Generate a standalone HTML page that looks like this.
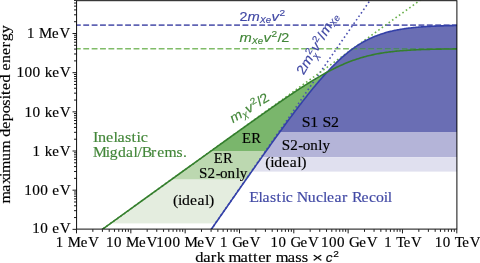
<!DOCTYPE html>
<html><head><meta charset="utf-8"><style>
html,body{margin:0;padding:0;background:#fff;width:480px;height:263px;overflow:hidden}
svg{display:block;will-change:transform}
</style></head><body>
<svg width="480" height="263" viewBox="0 0 480 263">
<defs>
<clipPath id="ax"><rect x="76.6" y="0.7" width="380.30" height="228.40"/></clipPath>
<clipPath id="cel"><polygon points="185.16,266.99 186.16,265.55 187.16,264.11 188.16,262.67 189.15,261.23 190.15,259.79 191.15,258.35 192.15,256.92 193.15,255.48 194.15,254.04 195.15,252.60 196.15,251.16 197.15,249.72 198.15,248.28 199.15,246.84 200.15,245.40 201.15,243.96 202.15,242.52 203.15,241.09 204.14,239.65 205.14,238.21 206.14,236.77 207.14,235.33 208.14,233.90 209.14,232.46 210.14,231.02 211.14,229.58 212.14,228.14 213.14,226.71 214.14,225.27 215.14,223.83 216.14,222.40 217.14,220.96 218.14,219.52 219.14,218.09 220.13,216.65 221.13,215.22 222.13,213.78 223.13,212.34 224.13,210.91 225.13,209.47 226.13,208.04 227.13,206.61 228.13,205.17 229.13,203.74 230.13,202.31 231.13,200.87 232.13,199.44 233.13,198.01 234.13,196.58 235.12,195.14 236.12,193.71 237.12,192.28 238.12,190.85 239.12,189.42 240.12,187.99 241.12,186.56 242.12,185.14 243.12,183.71 244.12,182.28 245.12,180.85 246.12,179.43 247.12,178.00 248.12,176.58 249.12,175.15 250.12,173.73 251.11,172.31 252.11,170.89 253.11,169.47 254.11,168.05 255.11,166.63 256.11,165.21 257.11,163.79 258.11,162.38 259.11,160.96 260.11,159.55 261.11,158.14 262.11,156.72 263.11,155.31 264.11,153.90 265.11,152.50 266.10,151.09 267.10,149.69 268.10,148.28 269.10,146.88 270.10,145.48 271.10,144.08 272.10,142.69 273.10,141.29 274.10,139.90 275.10,138.51 276.10,137.12 277.10,135.73 278.10,134.35 279.10,132.97 280.10,131.59 281.10,130.21 282.09,128.84 283.09,127.47 284.09,126.10 285.09,124.73 286.09,123.37 287.09,122.01 288.09,120.65 289.09,119.30 290.09,117.95 291.09,116.61 292.09,115.27 293.09,113.93 294.09,112.60 295.09,111.27 296.09,109.94 297.08,108.62 298.08,107.31 299.08,106.00 300.08,104.69 301.08,103.39 302.08,102.10 303.08,100.81 304.08,99.53 305.08,98.25 306.08,96.98 307.08,95.72 308.08,94.46 309.08,93.21 310.08,91.97 311.08,90.73 312.08,89.51 313.07,88.29 314.07,87.07 315.07,85.87 316.07,84.68 317.07,83.49 318.07,82.31 319.07,81.14 320.07,79.98 321.07,78.84 322.07,77.70 323.07,76.57 324.07,75.45 325.07,74.34 326.07,73.25 327.07,72.16 328.06,71.09 329.06,70.02 330.06,68.97 331.06,67.94 332.06,66.91 333.06,65.90 334.06,64.90 335.06,63.91 336.06,62.94 337.06,61.98 338.06,61.03 339.06,60.10 340.06,59.18 341.06,58.27 342.06,57.38 343.06,56.51 344.05,55.64 345.05,54.80 346.05,53.97 347.05,53.15 348.05,52.35 349.05,51.56 350.05,50.79 351.05,50.03 352.05,49.29 353.05,48.57 354.05,47.86 355.05,47.16 356.05,46.48 357.05,45.82 358.05,45.17 359.04,44.53 360.04,43.91 361.04,43.31 362.04,42.72 363.04,42.14 364.04,41.58 365.04,41.04 366.04,40.50 367.04,39.99 368.04,39.48 369.04,38.99 370.04,38.52 371.04,38.05 372.04,37.60 373.04,37.17 374.04,36.74 375.03,36.33 376.03,35.93 377.03,35.54 378.03,35.17 379.03,34.81 380.03,34.45 381.03,34.11 382.03,33.78 383.03,33.46 384.03,33.15 385.03,32.86 386.03,32.57 387.03,32.29 388.03,32.02 389.03,31.76 390.02,31.51 391.02,31.26 392.02,31.03 393.02,30.80 394.02,30.58 395.02,30.37 396.02,30.17 397.02,29.97 398.02,29.78 399.02,29.60 400.02,29.43 401.02,29.26 402.02,29.09 403.02,28.94 404.02,28.79 405.02,28.64 406.01,28.50 407.01,28.37 408.01,28.24 409.01,28.11 410.01,27.99 411.01,27.88 412.01,27.77 413.01,27.66 414.01,27.56 415.01,27.46 416.01,27.36 417.01,27.27 418.01,27.19 419.01,27.10 420.01,27.02 421.00,26.94 422.00,26.87 423.00,26.80 424.00,26.73 425.00,26.66 426.00,26.60 427.00,26.54 428.00,26.48 429.00,26.42 430.00,26.37 431.00,26.32 432.00,26.27 433.00,26.22 434.00,26.17 435.00,26.13 436.00,26.09 436.99,26.05 437.99,26.01 438.99,25.97 439.99,25.93 440.99,25.90 441.99,25.87 442.99,25.84 443.99,25.81 444.99,25.78 445.99,25.75 446.99,25.72 447.99,25.70 448.99,25.67 449.99,25.65 450.99,25.62 451.98,25.60 452.98,25.58 453.98,25.56 454.98,25.54 455.98,25.52 456.98,25.51 457.98,25.49 458.98,25.47 459.98,25.46 460.98,25.44 461.98,25.43 462.98,25.42 463.98,25.40 464.98,25.39 465.98,25.38 466.98,25.37 467.97,25.35 468.97,25.34 469.97,25.33 470.97,25.32 471.97,25.31 472.97,25.31 473.97,25.30 474.97,25.29 475.97,25.28 476.97,25.27 477.97,25.27 478.97,25.26 479.97,25.25 480.97,25.25 481.97,25.24 482.96,25.23 483.96,25.23 483.96,300 185.16,300"/></clipPath>
<clipPath id="cbt"><polygon points="49.34,267.54 50.73,266.53 52.13,265.53 53.52,264.52 54.92,263.52 56.31,262.51 57.71,261.50 59.10,260.50 60.50,259.49 61.89,258.49 63.29,257.48 64.68,256.47 66.08,255.47 67.47,254.46 68.87,253.46 70.26,252.45 71.66,251.44 73.05,250.44 74.45,249.43 75.84,248.43 77.24,247.42 78.63,246.42 80.03,245.41 81.42,244.40 82.82,243.40 84.21,242.39 85.61,241.39 87.00,240.38 88.40,239.37 89.80,238.37 91.19,237.36 92.59,236.36 93.98,235.35 95.38,234.34 96.77,233.34 98.17,232.33 99.56,231.33 100.96,230.32 102.35,229.32 103.75,228.31 105.14,227.30 106.54,226.30 107.93,225.29 109.33,224.29 110.72,223.28 112.12,222.27 113.51,221.27 114.91,220.26 116.30,219.26 117.70,218.25 119.09,217.25 120.49,216.24 121.88,215.23 123.28,214.23 124.67,213.22 126.07,212.22 127.46,211.21 128.86,210.20 130.25,209.20 131.65,208.19 133.04,207.19 134.44,206.18 135.84,205.18 137.23,204.17 138.63,203.16 140.02,202.16 141.42,201.15 142.81,200.15 144.21,199.14 145.60,198.14 147.00,197.13 148.39,196.12 149.79,195.12 151.18,194.11 152.58,193.11 153.97,192.10 155.37,191.10 156.76,190.09 158.16,189.08 159.55,188.08 160.95,187.07 162.34,186.07 163.74,185.06 165.13,184.06 166.53,183.05 167.92,182.05 169.32,181.04 170.71,180.03 172.11,179.03 173.50,178.02 174.90,177.02 176.29,176.01 177.69,175.01 179.08,174.00 180.48,173.00 181.88,171.99 183.27,170.99 184.67,169.98 186.06,168.98 187.46,167.97 188.85,166.97 190.25,165.96 191.64,164.96 193.04,163.95 194.43,162.95 195.83,161.94 197.22,160.94 198.62,159.93 200.01,158.93 201.41,157.93 202.80,156.92 204.20,155.92 205.59,154.91 206.99,153.91 208.38,152.91 209.78,151.90 211.17,150.90 212.57,149.89 213.96,148.89 215.36,147.89 216.75,146.89 218.15,145.88 219.54,144.88 220.94,143.88 222.33,142.88 223.73,141.87 225.12,140.87 226.52,139.87 227.92,138.87 229.31,137.87 230.71,136.87 232.10,135.87 233.50,134.87 234.89,133.87 236.29,132.87 237.68,131.87 239.08,130.87 240.47,129.88 241.87,128.88 243.26,127.88 244.66,126.89 246.05,125.89 247.45,124.90 248.84,123.90 250.24,122.91 251.63,121.92 253.03,120.93 254.42,119.93 255.82,118.94 257.21,117.95 258.61,116.97 260.00,115.98 261.40,114.99 262.79,114.01 264.19,113.02 265.58,112.04 266.98,111.06 268.37,110.08 269.77,109.10 271.16,108.13 272.56,107.15 273.96,106.18 275.35,105.21 276.75,104.24 278.14,103.28 279.54,102.31 280.93,101.35 282.33,100.39 283.72,99.43 285.12,98.48 286.51,97.53 287.91,96.58 289.30,95.64 290.70,94.70 292.09,93.76 293.49,92.83 294.88,91.90 296.28,90.98 297.67,90.06 299.07,89.14 300.46,88.23 301.86,87.33 303.25,86.43 304.65,85.53 306.04,84.65 307.44,83.76 308.83,82.89 310.23,82.02 311.62,81.16 313.02,80.31 314.41,79.46 315.81,78.63 317.20,77.80 318.60,76.98 320.00,76.17 321.39,75.37 322.79,74.57 324.18,73.79 325.58,73.02 326.97,72.26 326.97,72.26 325.58,73.78 324.18,75.32 322.79,76.89 321.39,78.47 320.00,80.07 318.60,81.69 317.20,83.33 315.81,84.99 314.41,86.66 313.02,88.35 311.62,90.06 310.23,91.78 308.83,93.52 307.44,95.27 306.04,97.03 304.65,98.80 303.25,100.59 301.86,102.39 300.46,104.20 299.07,106.02 297.67,107.85 296.28,109.69 294.88,111.54 293.49,113.40 292.09,115.26 290.70,117.13 289.30,119.02 287.91,120.90 286.51,122.80 285.12,124.70 283.72,126.61 282.33,128.52 280.93,130.44 279.54,132.36 278.14,134.29 276.75,136.22 275.35,138.16 273.96,140.10 272.56,142.04 271.16,143.99 269.77,145.95 268.37,147.90 266.98,149.86 265.58,151.82 264.19,153.79 262.79,155.75 261.40,157.72 260.00,159.70 258.61,161.67 257.21,163.65 255.82,165.63 254.42,167.61 253.03,169.59 251.63,171.57 250.24,173.56 248.84,175.54 247.45,177.53 246.05,179.52 244.66,181.51 243.26,183.51 241.87,185.50 240.47,187.49 239.08,189.49 237.68,191.48 236.29,193.48 234.89,195.48 233.50,197.48 232.10,199.48 230.71,201.48 229.31,203.48 227.92,205.48 226.52,207.48 225.12,209.48 223.73,211.49 222.33,213.49 220.94,215.49 219.54,217.50 218.15,219.50 216.75,221.51 215.36,223.52 213.96,225.52 212.57,227.53 211.17,229.53 209.78,231.54 208.38,233.55 206.99,235.56 205.59,237.56 204.20,239.57 202.80,241.58 201.41,243.59 200.01,245.60 198.62,247.61 197.22,249.61 195.83,251.62 194.43,253.63 193.04,255.64 191.64,257.65 190.25,259.66 188.85,261.67 187.46,263.68 186.06,265.69 184.67,267.70 183.27,269.71 181.88,271.72 180.48,273.73 179.08,275.74 177.69,277.75 176.29,279.76 174.90,281.77 173.50,283.79 172.11,285.80 170.71,287.81 169.32,289.82 167.92,291.83 166.53,293.84 165.13,295.85 163.74,297.86 162.34,299.87 160.95,301.88 159.55,303.90 158.16,305.91 156.76,307.92 155.37,309.93 153.97,311.94 152.58,313.95 151.18,315.96 149.79,317.97 148.39,319.99 147.00,322.00 145.60,324.01 144.21,326.02 142.81,328.03 141.42,330.04 140.02,332.05 138.63,334.07 137.23,336.08 135.84,338.09 134.44,340.10 133.04,342.11 131.65,344.12 130.25,346.14 128.86,348.15 127.46,350.16 126.07,352.17 124.67,354.18 123.28,356.19 121.88,358.21 120.49,360.22 119.09,362.23 117.70,364.24 116.30,366.25 114.91,368.26 113.51,370.28 112.12,372.29 110.72,374.30 109.33,376.31 107.93,378.32 106.54,380.33 105.14,382.35 103.75,384.36 102.35,386.37 100.96,388.38 99.56,390.39 98.17,392.40 96.77,394.42 95.38,396.43 93.98,398.44 92.59,400.45 91.19,402.46 89.80,404.47 88.40,406.49 87.00,408.50 85.61,410.51 84.21,412.52 82.82,414.53 81.42,416.55 80.03,418.56 78.63,420.57 77.24,422.58 75.84,424.59 74.45,426.60 73.05,428.62 71.66,430.63 70.26,432.64 68.87,434.65 67.47,436.66 66.08,438.67 64.68,440.69 63.29,442.70 61.89,444.71 60.50,446.72 59.10,448.73 57.71,450.74 56.31,452.76 54.92,454.77 53.52,456.78 52.13,458.79 50.73,460.80 49.34,462.82"/></clipPath>
</defs>
<rect width="480" height="263" fill="#fff"/>
<g clip-path="url(#ax)">
 <g clip-path="url(#cbt)">
  <rect x="0" y="0" width="480" height="151.0" fill="#7ab66c"/>
  <rect x="0" y="151.0" width="480" height="28.60" fill="#bcd8b0"/>
  <rect x="0" y="179.6" width="480" height="43.80" fill="#e4eddf"/>
 </g>
 <g clip-path="url(#cel)">
  <rect x="0" y="0" width="480" height="132.0" fill="#6a6eb4"/>
  <rect x="0" y="132.0" width="480" height="25.20" fill="#b4b4d8"/>
  <rect x="0" y="157.2" width="480" height="14.40" fill="#e0e0ef"/>
 </g>
 <line x1="74.9" y1="25.10" x2="470" y2="25.10" stroke="#6064b4" stroke-width="1.6" stroke-dasharray="5.85 2.53"/>
 <line x1="74.9" y1="48.68" x2="470" y2="48.68" stroke="#80bc68" stroke-width="1.6" stroke-dasharray="5.85 2.53"/>
 <line x1="74.9" y1="48.68" x2="470" y2="48.68" stroke="#4e8070" stroke-width="1.6" stroke-dasharray="5.85 2.53" clip-path="url(#cel)"/>
 <polyline points="201.51,243.38 386.12,-22.81" fill="none" stroke="#4a50b0" stroke-width="1.6" stroke-dasharray="1.6 2.64"/>
 <polyline points="92.85,236.16 440.45,-14.44" fill="none" stroke="#6ab04c" stroke-width="1.6" stroke-dasharray="1.6 2.64"/>
 <polyline points="196.02,251.34 196.93,250.03 197.84,248.72 198.75,247.42 199.66,246.11 200.57,244.80 201.47,243.49 202.38,242.18 203.29,240.88 204.20,239.57 205.11,238.26 206.02,236.95 206.92,235.65 207.83,234.34 208.74,233.03 209.65,231.73 210.56,230.42 211.47,229.11 212.38,227.80 213.28,226.50 214.19,225.19 215.10,223.89 216.01,222.58 216.92,221.27 217.83,219.97 218.74,218.66 219.64,217.36 220.55,216.05 221.46,214.75 222.37,213.44 223.28,212.14 224.19,210.83 225.10,209.53 226.00,208.22 226.91,206.92 227.82,205.62 228.73,204.31 229.64,203.01 230.55,201.71 231.45,200.40 232.36,199.10 233.27,197.80 234.18,196.50 235.09,195.20 236.00,193.89 236.91,192.59 237.81,191.29 238.72,189.99 239.63,188.69 240.54,187.40 241.45,186.10 242.36,184.80 243.27,183.50 244.17,182.20 245.08,180.91 245.99,179.61 246.90,178.31 247.81,177.02 248.72,175.72 249.62,174.43 250.53,173.14 251.44,171.84 252.35,170.55 253.26,169.26 254.17,167.97 255.08,166.68 255.98,165.39 256.89,164.10 257.80,162.81 258.71,161.53 259.62,160.24 260.53,158.96 261.44,157.67 262.34,156.39 263.25,155.11 264.16,153.83 265.07,152.55 265.98,151.27 266.89,149.99 267.79,148.72 268.70,147.44 269.61,146.17 270.52,144.90 271.43,143.63 272.34,142.36 273.25,141.09 274.15,139.82 275.06,138.56 275.97,137.30 276.88,136.04 277.79,134.78 278.70,133.52 279.61,132.26 280.51,131.01 281.42,129.76 282.33,128.51 283.24,127.27 284.15,126.02 285.06,124.78 285.96,123.54 286.87,122.31 287.78,121.07 288.69,119.84 289.60,118.61 290.51,117.39 291.42,116.17 292.32,114.95 293.23,113.74 294.14,112.52 295.05,111.32 295.96,110.11 296.87,108.91 297.78,107.71 298.68,106.52 299.59,105.33 300.50,104.15 301.41,102.97 302.32,101.80 303.23,100.63 304.13,99.46 305.04,98.30 305.95,97.14 306.86,95.99 307.77,94.85 308.68,93.71 309.59,92.58 310.49,91.45 311.40,90.33 312.31,89.22 313.22,88.11 314.13,87.01 315.04,85.91 315.95,84.83 316.85,83.75 317.76,82.67 318.67,81.61 319.58,80.55 320.49,79.50 321.40,78.46 322.30,77.43 323.21,76.40 324.12,75.39 325.03,74.38 325.94,73.38 326.85,72.40 327.76,71.42 328.66,70.45 329.57,69.49 330.48,68.54 331.39,67.60 332.30,66.67 333.21,65.75 334.12,64.84 335.02,63.95 335.93,63.06 336.84,62.18 337.75,61.32 338.66,60.47 339.57,59.63 340.48,58.80 341.38,57.98 342.29,57.17 343.20,56.38 344.11,55.60 345.02,54.83 345.93,54.07 346.83,53.33 347.74,52.59 348.65,51.87 349.56,51.17 350.47,50.47 351.38,49.79 352.29,49.12 353.19,48.46 354.10,47.82 355.01,47.19 355.92,46.57 356.83,45.96 357.74,45.37 358.65,44.78 359.55,44.21 360.46,43.66 361.37,43.11 362.28,42.58 363.19,42.06 364.10,41.55 365.00,41.06 365.91,40.57 366.82,40.10 367.73,39.64 368.64,39.19 369.55,38.75 370.46,38.32 371.36,37.90 372.27,37.50 373.18,37.10 374.09,36.72 375.00,36.35 375.91,35.98 376.82,35.63 377.72,35.28 378.63,34.95 379.54,34.63 380.45,34.31 381.36,34.00 382.27,33.71 383.17,33.42 384.08,33.14 384.99,32.87 385.90,32.60 386.81,32.35 387.72,32.10 388.63,31.86 389.53,31.63 390.44,31.40 391.35,31.18 392.26,30.97 393.17,30.77 394.08,30.57 394.99,30.38 395.89,30.19 396.80,30.01 397.71,29.84 398.62,29.67 399.53,29.51 400.44,29.35 401.34,29.20 402.25,29.06 403.16,28.92 404.07,28.78 404.98,28.65 405.89,28.52 406.80,28.40 407.70,28.28 408.61,28.16 409.52,28.05 410.43,27.94 411.34,27.84 412.25,27.74 413.16,27.64 414.06,27.55 414.97,27.46 415.88,27.38 416.79,27.29 417.70,27.21 418.61,27.13 419.51,27.06 420.42,26.99 421.33,26.92 422.24,26.85 423.15,26.79 424.06,26.72 424.97,26.66 425.87,26.61 426.78,26.55 427.69,26.50 428.60,26.44 429.51,26.39 430.42,26.35 431.33,26.30 432.23,26.26 433.14,26.21 434.05,26.17 434.96,26.13 435.87,26.09 436.78,26.06 437.69,26.02 438.59,25.99 439.50,25.95 440.41,25.92 441.32,25.89 442.23,25.86 443.14,25.83 444.04,25.80 444.95,25.78 445.86,25.75 446.77,25.73 447.68,25.70 448.59,25.68 449.50,25.66 450.40,25.64 451.31,25.62 452.22,25.60 453.13,25.58 454.04,25.56 454.95,25.54 455.86,25.53 456.76,25.51 457.67,25.50 458.58,25.48 459.49,25.47 460.40,25.45 461.31,25.44 462.21,25.43 463.12,25.41 464.03,25.40 464.94,25.39 465.85,25.38 466.76,25.37 467.67,25.36" fill="none" stroke="#3340a8" stroke-width="1.6"/>
 <polyline points="87.37,240.12 88.64,239.20 89.91,238.29 91.18,237.37 92.45,236.45 93.73,235.53 95.00,234.62 96.27,233.70 97.54,232.78 98.81,231.87 100.08,230.95 101.36,230.03 102.63,229.12 103.90,228.20 105.17,227.28 106.44,226.36 107.72,225.45 108.99,224.53 110.26,223.61 111.53,222.70 112.80,221.78 114.08,220.86 115.35,219.95 116.62,219.03 117.89,218.11 119.16,217.19 120.44,216.28 121.71,215.36 122.98,214.44 124.25,213.53 125.52,212.61 126.79,211.69 128.07,210.78 129.34,209.86 130.61,208.94 131.88,208.03 133.15,207.11 134.43,206.19 135.70,205.27 136.97,204.36 138.24,203.44 139.51,202.52 140.79,201.61 142.06,200.69 143.33,199.77 144.60,198.86 145.87,197.94 147.15,197.02 148.42,196.11 149.69,195.19 150.96,194.27 152.23,193.35 153.50,192.44 154.78,191.52 156.05,190.60 157.32,189.69 158.59,188.77 159.86,187.85 161.14,186.94 162.41,186.02 163.68,185.10 164.95,184.19 166.22,183.27 167.50,182.35 168.77,181.44 170.04,180.52 171.31,179.60 172.58,178.69 173.86,177.77 175.13,176.85 176.40,175.94 177.67,175.02 178.94,174.10 180.21,173.19 181.49,172.27 182.76,171.36 184.03,170.44 185.30,169.52 186.57,168.61 187.85,167.69 189.12,166.77 190.39,165.86 191.66,164.94 192.93,164.03 194.21,163.11 195.48,162.19 196.75,161.28 198.02,160.36 199.29,159.45 200.57,158.53 201.84,157.62 203.11,156.70 204.38,155.78 205.65,154.87 206.92,153.95 208.20,153.04 209.47,152.12 210.74,151.21 212.01,150.29 213.28,149.38 214.56,148.47 215.83,147.55 217.10,146.64 218.37,145.72 219.64,144.81 220.92,143.90 222.19,142.98 223.46,142.07 224.73,141.16 226.00,140.24 227.28,139.33 228.55,138.42 229.82,137.51 231.09,136.59 232.36,135.68 233.63,134.77 234.91,133.86 236.18,132.95 237.45,132.04 238.72,131.13 239.99,130.22 241.27,129.31 242.54,128.40 243.81,127.49 245.08,126.58 246.35,125.68 247.63,124.77 248.90,123.86 250.17,122.96 251.44,122.05 252.71,121.15 253.99,120.24 255.26,119.34 256.53,118.44 257.80,117.54 259.07,116.64 260.34,115.74 261.62,114.84 262.89,113.94 264.16,113.04 265.43,112.15 266.70,111.25 267.98,110.36 269.25,109.47 270.52,108.58 271.79,107.69 273.06,106.80 274.34,105.92 275.61,105.03 276.88,104.15 278.15,103.27 279.42,102.39 280.70,101.51 281.97,100.64 283.24,99.76 284.51,98.89 285.78,98.03 287.06,97.16 288.33,96.30 289.60,95.44 290.87,94.58 292.14,93.73 293.41,92.88 294.69,92.03 295.96,91.19 297.23,90.35 298.50,89.51 299.77,88.68 301.05,87.85 302.32,87.03 303.59,86.21 304.86,85.40 306.13,84.59 307.41,83.78 308.68,82.99 309.95,82.20 311.22,81.41 312.49,80.63 313.77,79.86 315.04,79.09 316.31,78.33 317.58,77.58 318.85,76.83 320.12,76.09 321.40,75.36 322.67,74.64 323.94,73.93 325.21,73.22 326.48,72.53 327.76,71.84 329.03,71.16 330.30,70.49 331.57,69.84 332.84,69.19 334.12,68.55 335.39,67.93 336.66,67.31 337.93,66.71 339.20,66.11 340.48,65.53 341.75,64.96 343.02,64.40 344.29,63.85 345.56,63.32 346.83,62.79 348.11,62.28 349.38,61.78 350.65,61.30 351.92,60.82 353.19,60.36 354.47,59.91 355.74,59.48 357.01,59.05 358.28,58.64 359.55,58.24 360.83,57.85 362.10,57.47 363.37,57.11 364.64,56.76 365.91,56.42 367.19,56.09 368.46,55.77 369.73,55.46 371.00,55.17 372.27,54.88 373.54,54.61 374.82,54.34 376.09,54.09 377.36,53.84 378.63,53.61 379.90,53.38 381.18,53.16 382.45,52.96 383.72,52.76 384.99,52.56 386.26,52.38 387.54,52.21 388.81,52.04 390.08,51.88 391.35,51.72 392.62,51.58 393.90,51.44 395.17,51.30 396.44,51.17 397.71,51.05 398.98,50.94 400.25,50.82 401.53,50.72 402.80,50.62 404.07,50.52 405.34,50.43 406.61,50.34 407.89,50.26 409.16,50.18 410.43,50.10 411.70,50.03 412.97,49.96 414.25,49.90 415.52,49.84 416.79,49.78 418.06,49.72 419.33,49.67 420.61,49.62 421.88,49.57 423.15,49.52 424.42,49.48 425.69,49.44 426.96,49.40 428.24,49.36 429.51,49.33 430.78,49.29 432.05,49.26 433.32,49.23 434.60,49.20 435.87,49.18 437.14,49.15 438.41,49.13 439.68,49.10 440.96,49.08 442.23,49.06 443.50,49.04 444.77,49.02 446.04,49.00 447.32,48.99 448.59,48.97 449.86,48.96 451.13,48.94 452.40,48.93 453.67,48.92 454.95,48.90 456.22,48.89 457.49,48.88 458.76,48.87 460.03,48.86 461.31,48.85 462.58,48.84 463.85,48.83 465.12,48.82 466.39,48.82 467.67,48.81" fill="none" stroke="#347e2e" stroke-width="1.6"/>
</g>
<path d="M76.50,229.35v4M92.85,229.35v2.5M102.42,229.35v2.5M109.21,229.35v2.5M114.47,229.35v2.5M118.78,229.35v2.5M122.41,229.35v2.5M125.56,229.35v2.5M128.34,229.35v2.5M130.83,229.35v4M147.18,229.35v2.5M156.75,229.35v2.5M163.54,229.35v2.5M168.80,229.35v2.5M173.10,229.35v2.5M176.74,229.35v2.5M179.89,229.35v2.5M182.67,229.35v2.5M185.16,229.35v4M201.51,229.35v2.5M211.08,229.35v2.5M217.87,229.35v2.5M223.13,229.35v2.5M227.43,229.35v2.5M231.07,229.35v2.5M234.22,229.35v2.5M237.00,229.35v2.5M239.49,229.35v4M255.84,229.35v2.5M265.41,229.35v2.5M272.19,229.35v2.5M277.46,229.35v2.5M281.76,229.35v2.5M285.40,229.35v2.5M288.55,229.35v2.5M291.33,229.35v2.5M293.81,229.35v4M310.17,229.35v2.5M319.74,229.35v2.5M326.52,229.35v2.5M331.79,229.35v2.5M336.09,229.35v2.5M339.73,229.35v2.5M342.88,229.35v2.5M345.66,229.35v2.5M348.14,229.35v4M364.50,229.35v2.5M374.06,229.35v2.5M380.85,229.35v2.5M386.12,229.35v2.5M390.42,229.35v2.5M394.06,229.35v2.5M397.21,229.35v2.5M399.99,229.35v2.5M402.47,229.35v4M418.83,229.35v2.5M428.39,229.35v2.5M435.18,229.35v2.5M440.45,229.35v2.5M444.75,229.35v2.5M448.38,229.35v2.5M451.54,229.35v2.5M454.31,229.35v2.5M456.80,229.35v4M76.5,229.35h-4M76.5,190.18h-4M76.5,151.01h-4M76.5,111.84h-4M76.5,72.67h-4M76.5,33.50h-4M76.5,217.56h-2.5M76.5,210.66h-2.5M76.5,205.77h-2.5M76.5,201.97h-2.5M76.5,198.87h-2.5M76.5,196.25h-2.5M76.5,193.98h-2.5M76.5,191.97h-2.5M76.5,178.39h-2.5M76.5,171.49h-2.5M76.5,166.60h-2.5M76.5,162.80h-2.5M76.5,159.70h-2.5M76.5,157.08h-2.5M76.5,154.81h-2.5M76.5,152.80h-2.5M76.5,139.22h-2.5M76.5,132.32h-2.5M76.5,127.43h-2.5M76.5,123.63h-2.5M76.5,120.53h-2.5M76.5,117.91h-2.5M76.5,115.64h-2.5M76.5,113.63h-2.5M76.5,100.05h-2.5M76.5,93.15h-2.5M76.5,88.26h-2.5M76.5,84.46h-2.5M76.5,81.36h-2.5M76.5,78.74h-2.5M76.5,76.47h-2.5M76.5,74.46h-2.5M76.5,60.88h-2.5M76.5,53.98h-2.5M76.5,49.09h-2.5M76.5,45.29h-2.5M76.5,42.19h-2.5M76.5,39.57h-2.5M76.5,37.30h-2.5M76.5,35.29h-2.5M76.5,21.71h-2.5M76.5,14.81h-2.5M76.5,9.92h-2.5M76.5,6.12h-2.5M76.5,3.02h-2.5M76.5,0.40h-2.5" stroke="#000" stroke-width="0.9" fill="none"/>
<rect x="76.6" y="0.7" width="380.30" height="228.40" fill="none" stroke="#000" stroke-width="0.95"/>
<g font-family='"Liberation Serif", serif' font-size="14.0" stroke-width="0.15" paint-order="stroke">
<text transform="scale(1.0583,1)" x="52.65 60.24 64.03 76.25 83.31" y="246.75" fill="#000" stroke="#000">1 MeV</text>
<text transform="scale(1.0718,1)" x="98.93 106.43 113.92 117.66 129.73 136.70" y="246.75" fill="#000" stroke="#000">10 MeV</text>
<text transform="scale(1.0817,1)" x="144.53 151.96 159.38 166.81 170.52 182.47 189.38" y="246.75" fill="#000" stroke="#000">100 MeV</text>
<text transform="scale(1.0483,1)" x="209.98 217.64 221.47 231.09 238.21" y="246.75" fill="#000" stroke="#000">1 GeV</text>
<text transform="scale(1.0641,1)" x="254.14 261.69 269.24 273.01 282.49 289.51" y="246.75" fill="#000" stroke="#000">10 GeV</text>
<text transform="scale(1.0756,1)" x="298.44 305.91 313.38 320.85 324.58 333.95 340.90" y="246.75" fill="#000" stroke="#000">100 GeV</text>
<text transform="scale(1.0559,1)" x="363.84 371.45 375.25 382.28 389.35" y="246.75" fill="#000" stroke="#000">1 TeV</text>
<text transform="scale(1.0715,1)" x="405.74 413.24 420.74 424.48 431.41 438.38" y="246.75" fill="#000" stroke="#000">10 TeV</text>
<text transform="scale(1.0840,1)" x="29.73 37.14 44.55 48.26 55.15" y="233.45" fill="#000" stroke="#000">10 eV</text>
<text transform="scale(1.0949,1)" x="22.10 29.44 36.78 44.11 47.78 54.60" y="194.53" fill="#000" stroke="#000">100 eV</text>
<text transform="scale(1.0727,1)" x="30.40 37.89 41.63 48.76 55.73" y="155.61" fill="#000" stroke="#000">1 keV</text>
<text transform="scale(1.0856,1)" x="22.65 30.04 37.44 41.14 48.19 55.07" y="116.69" fill="#000" stroke="#000">10 keV</text>
<text transform="scale(1.0946,1)" x="15.12 22.46 29.80 37.13 40.80 47.79 54.61" y="76.52" fill="#000" stroke="#000">100 keV</text>
<text transform="scale(1.0583,1)" x="25.60 33.19 36.98 49.19 56.25" y="37.60" fill="#000" stroke="#000">1 MeV</text>
<text transform="translate(-0.25,0.00) translate(9.9,203.6) rotate(-90) scale(1.1429,1)" x="0.00 10.47 17.06 23.29 26.82 37.30 44.41 54.89 58.40 65.47 72.01 79.08 85.73 91.40 94.93 99.37 105.90 112.98 116.49 123.02 130.14 136.68 141.96 149.03" y="0.00" fill="#000" stroke="#000">maximum deposited energy</text>
<text transform="scale(1.1808,1)" x="165.31 172.16 178.53 183.64 190.12 193.52 203.66 210.03 214.33 218.63 224.95 230.06 233.46 243.60 249.98 255.46" y="261.70" fill="#000" stroke="#000">dark matter mass</text>
<text transform="scale(1.0465,1)" x="231.33 240.14" y="142.55" fill="#000" stroke="#000">ER</text>
<text transform="scale(1.0465,1)" x="204.29 213.10" y="162.70" fill="#000" stroke="#000">ER</text>
<text transform="scale(1.0792,1)" x="184.38 192.39 199.83 203.79 210.83 218.36 222.10" y="177.70" fill="#000" stroke="#000">S2-only</text>
<text transform="scale(1.1225,1)" x="154.12 158.51 162.11 169.31 175.96 182.67 186.27" y="204.75" fill="#000" stroke="#000">(ideal)</text>
<text transform="scale(1.1301,1)" x="266.97 274.62 281.73 285.28 292.93" y="126.75" fill="#000" stroke="#000">S1 S2</text>
<text transform="scale(1.0792,1)" x="261.01 269.02 276.46 280.42 287.46 295.00 298.74" y="149.70" fill="#000" stroke="#000">S2-only</text>
<text transform="scale(1.1225,1)" x="236.26 240.65 244.25 251.45 258.11 264.81 268.41" y="166.65" fill="#000" stroke="#000">(ideal)</text>
<text transform="scale(1.1315,1)" x="220.32 228.47 232.04 238.69 244.42 248.90 252.47 258.72 262.26 272.03 279.21 285.46 289.03 295.63 302.29 307.62 311.17 319.57 326.17 332.42 339.14 342.70" y="201.65" fill="#4048a4" stroke="#4048a4">Elastic Nuclear Recoil</text>
<text transform="scale(1.1559,1)" x="80.37 84.69 91.72 98.18 101.68 108.19 113.79 118.18 121.68" y="141.70" fill="#428638" stroke="#428638">Inelastic</text>
<text transform="scale(1.1162,1)" x="83.23 94.81 98.42 105.66 112.90 119.65 123.26 127.07 135.39 140.79 147.49 158.21 164.02" y="156.70" fill="#428638" stroke="#428638">Migdal/Brems.</text>
</g>
<g transform="translate(239.40,20.50)" fill="#4048a4" font-family='"Liberation Sans", sans-serif' stroke="#4048a4" stroke-width="0.15"><text x="0.00" y="-0.00" font-size="13.20" textLength="8.02" lengthAdjust="spacingAndGlyphs">2</text><text x="8.03" y="-0.00" font-size="13.20" font-style="italic" textLength="12.27" lengthAdjust="spacingAndGlyphs">m</text><text x="20.33" y="2.13" font-size="9.24" font-style="italic" textLength="6.04" lengthAdjust="spacingAndGlyphs">X</text><text x="26.38" y="2.13" font-size="9.24" font-style="italic" textLength="5.43" lengthAdjust="spacingAndGlyphs">e</text><text x="32.18" y="-0.00" font-size="13.20" font-style="italic" textLength="7.46" lengthAdjust="spacingAndGlyphs">v</text><text x="40.23" y="-4.98" font-size="9.24" textLength="5.61" lengthAdjust="spacingAndGlyphs">2</text></g>
<g transform="translate(239.40,41.70)" fill="#428638" font-family='"Liberation Sans", sans-serif' stroke="#428638" stroke-width="0.15"><text x="0.00" y="-0.00" font-size="13.20" font-style="italic" textLength="12.27" lengthAdjust="spacingAndGlyphs">m</text><text x="12.30" y="2.13" font-size="9.24" font-style="italic" textLength="6.04" lengthAdjust="spacingAndGlyphs">X</text><text x="18.35" y="2.13" font-size="9.24" font-style="italic" textLength="5.43" lengthAdjust="spacingAndGlyphs">e</text><text x="24.15" y="-0.00" font-size="13.20" font-style="italic" textLength="7.46" lengthAdjust="spacingAndGlyphs">v</text><text x="32.20" y="-4.98" font-size="9.24" textLength="5.61" lengthAdjust="spacingAndGlyphs">2</text><text x="38.18" y="-0.00" font-size="13.20" textLength="4.25" lengthAdjust="spacingAndGlyphs">/</text><text x="41.93" y="-0.00" font-size="13.20" textLength="8.02" lengthAdjust="spacingAndGlyphs">2</text></g>
<g transform="translate(312.35,261.70)" fill="#000" font-family='"Liberation Sans", sans-serif' stroke="#000" stroke-width="0.15"><text x="0.00" y="-0.00" font-size="13.20" textLength="10.56" lengthAdjust="spacingAndGlyphs">×</text><text x="13.30" y="-0.00" font-size="13.20" font-style="italic" textLength="6.93" lengthAdjust="spacingAndGlyphs">c</text><text x="20.90" y="-4.98" font-size="9.24" textLength="5.61" lengthAdjust="spacingAndGlyphs">2</text></g>
<g transform="translate(303.55,75.55) rotate(-59.5)" fill="#4048a4" font-family='"Liberation Sans", sans-serif' stroke="#4048a4" stroke-width="0.15"><text x="0.00" y="-0.00" font-size="13.20" textLength="8.02" lengthAdjust="spacingAndGlyphs">2</text><text x="8.03" y="-0.00" font-size="13.20" font-style="italic" textLength="12.27" lengthAdjust="spacingAndGlyphs">m</text><text x="20.94" y="-4.98" font-size="9.24" textLength="5.61" lengthAdjust="spacingAndGlyphs">2</text><text x="20.33" y="3.55" font-size="9.24" font-style="italic" textLength="5.22" lengthAdjust="spacingAndGlyphs">χ</text><text x="26.91" y="-0.00" font-size="13.20" font-style="italic" textLength="7.46" lengthAdjust="spacingAndGlyphs">v</text><text x="34.97" y="-4.98" font-size="9.24" textLength="5.61" lengthAdjust="spacingAndGlyphs">2</text><text x="40.94" y="-0.00" font-size="13.20" textLength="4.25" lengthAdjust="spacingAndGlyphs">/</text><text x="45.20" y="-0.00" font-size="13.20" font-style="italic" textLength="12.27" lengthAdjust="spacingAndGlyphs">m</text><text x="57.50" y="2.13" font-size="9.24" font-style="italic" textLength="6.04" lengthAdjust="spacingAndGlyphs">X</text><text x="63.55" y="2.13" font-size="9.24" font-style="italic" textLength="5.43" lengthAdjust="spacingAndGlyphs">e</text></g>
<g transform="translate(233.05,123.15) rotate(-32)" fill="#428638" font-family='"Liberation Sans", sans-serif' stroke="#428638" stroke-width="0.15"><text x="0.00" y="-0.00" font-size="13.20" font-style="italic" textLength="12.27" lengthAdjust="spacingAndGlyphs">m</text><text x="12.30" y="2.13" font-size="9.24" font-style="italic" textLength="5.22" lengthAdjust="spacingAndGlyphs">χ</text><text x="17.88" y="-0.00" font-size="13.20" font-style="italic" textLength="7.46" lengthAdjust="spacingAndGlyphs">v</text><text x="25.94" y="-4.98" font-size="9.24" textLength="5.61" lengthAdjust="spacingAndGlyphs">2</text><text x="31.91" y="-0.00" font-size="13.20" textLength="4.25" lengthAdjust="spacingAndGlyphs">/</text><text x="35.67" y="-0.00" font-size="13.20" textLength="8.02" lengthAdjust="spacingAndGlyphs">2</text></g>
</svg>
</body></html>
